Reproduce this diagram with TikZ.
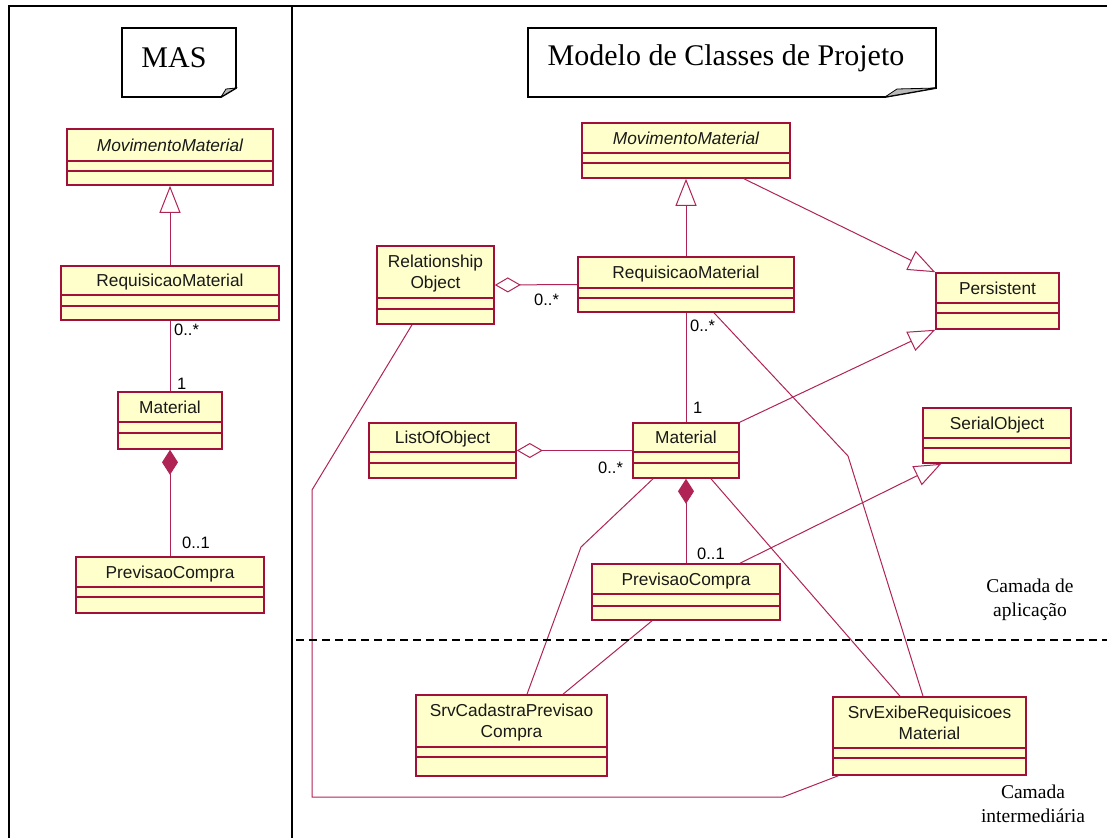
\documentclass[tikz,border=0pt]{standalone}
\usepackage{fontspec}
\setmainfont{Liberation Serif}
\setsansfont{Liberation Sans}
\usetikzlibrary{arrows.meta,fit}

\definecolor{umlfill}{RGB}{255,255,204}
\definecolor{umlline}{RGB}{160,16,58}
\definecolor{conn}{RGB}{175,35,85}

\tikzset{
  classbox/.style={draw=umlline, fill=umlfill, line width=1.6pt, inner sep=0pt},
  classname/.style={font=\sffamily\fontsize{17.3}{21}\selectfont, align=center, inner sep=0pt, text depth=0pt, text=black!90},
  mult/.style={font=\sffamily\fontsize{16.5}{20}\selectfont, anchor=west, inner sep=0pt},
  assoc/.style={draw=conn, line width=1pt},
  gen/.style={assoc, -{Triangle[open, length=27pt, width=21pt, fill=white]}},
  aggr/.style={assoc, {Diamond[open, length=26pt, width=15pt, fill=white]}-},
  comp/.style={assoc, {Diamond[length=25pt, width=16pt, fill=conn]}-},
  frameline/.style={line width=2.4pt, black},
  notebox/.style={line width=1.8pt, black, fill=white},
  notetext/.style={font=\fontsize{30}{34}\selectfont, inner sep=0pt},
  layer/.style={font=\fontsize{19.5}{23.5}\selectfont, align=center, inner sep=0pt},
}

% class box: name, x1, y1, x2, y2, first separator, second separator, title
\newcommand\umlclass[8]{%
  \node[classbox, fit={(#2,#3) (#4,#5)}] (#1) {};
  \draw[umlline, line width=1.2pt] (#2,#6) -- (#4,#6) (#2,#7) -- (#4,#7);
  \node[classname] (#1-name) at ({(#2+#4)/2},{(#3+#6)/2}) {#8};
}

\begin{document}
\begin{tikzpicture}[x=1pt, y=-1pt]
\useasboundingbox (0,0) rectangle (1107,838);

% page frame and column separator
\draw[frameline] (9,838) -- (9,6) -- (1107,6);
\draw[frameline] (292,6) -- (292,838);

% title notes
\draw[notebox] (122,28) -- (236,28) -- (236,88) -- (221,97) -- (122,97) -- cycle;
\filldraw[black, fill=gray!55, line width=0.8pt] (221,97) -- (226,89) -- (236,88) -- cycle;
\node[notetext] (mas) at (174,58) {MAS};

\draw[notebox] (528,28) -- (936,28) -- (936,88) -- (885,97) -- (528,97) -- cycle;
\filldraw[black, fill=gray!55, line width=0.8pt] (885,97) -- (897,89) -- (936,88) -- cycle;
\node[notetext] (modelo) at (726,58) {Modelo de Classes de Projeto};

% left column classes
\umlclass{mmA}{67}{129}{273}{185}{161}{171}{\itshape MovimentoMaterial}
\umlclass{rmA}{61}{266}{279}{320}{295}{306}{RequisicaoMaterial}
\umlclass{matA}{118}{392}{222}{449}{422}{433}{Material}
\umlclass{pcA}{76}{557}{264}{613}{587}{597}{PrevisaoCompra}

% right column classes
\umlclass{mmB}{582}{123}{790}{178}{153}{163}{\itshape MovimentoMaterial}
\umlclass{rmB}{578}{257}{794}{312}{288}{298}{RequisicaoMaterial}
\umlclass{ro}{377}{246}{494}{324}{298}{309}{Relationship\\Object}
\umlclass{pers}{936}{273}{1059}{329}{303}{313}{Persistent}
\umlclass{so}{923}{408}{1071}{463}{438}{448}{SerialObject}
\umlclass{loo}{369}{423}{516}{478}{452}{463}{ListOfObject}
\umlclass{matB}{633}{423}{739}{478}{452}{463}{Material}
\umlclass{pcB}{592}{564}{780}{620}{594}{606}{PrevisaoCompra}
\umlclass{cad}{416}{695}{607}{776}{747}{757}{SrvCadastraPrevisao\\Compra}
\umlclass{exi}{833}{697}{1026}{775}{748}{758}{SrvExibeRequisicoes\\Material}

% left column connectors
\draw[gen] (rmA.north) -- (mmA.south);
\draw[assoc] (rmA.south) -- (matA.north);
\draw[comp] (matA.south) -- (pcA.north);
\node[mult] (mA1) at (174,330) {0..*};
\node[mult] (mA2) at (177,384) {1};
\node[mult] (mA3) at (182,543) {0..1};

% right column connectors
\draw[gen] (rmB.north) -- (mmB.south);
\draw[gen] ([xshift=58pt]mmB.south) -- (pers.north west);
\draw[gen] (matB.north east) -- (pers.south west);
\draw[gen] ([xshift=54pt]pcB.north) -- ([xshift=19pt]so.south west);
\draw[aggr] (ro.east) -- (rmB.west);
\draw[aggr] (loo.east) -- (matB.west);
\draw[assoc] (rmB.south) -- (matB.north);
\draw[comp] (matB.south) -- (pcB.north);
\draw[assoc] ([xshift=-33pt]matB.south) -- (581,547) -- ([xshift=15.5pt]cad.north);
\draw[assoc] ([xshift=-34pt]pcB.south) -- ([xshift=51.5pt]cad.north);
\draw[assoc] ([xshift=25pt]matB.south) -- ([xshift=-29.5pt]exi.north);
\draw[assoc] ([xshift=28pt]rmB.south) -- (848,456) -- ([xshift=-6.5pt]exi.north);
\draw[assoc] ([xshift=-23.5pt]ro.south) -- (312,490) -- (312,797) -- (783,797) -- ([xshift=6pt]exi.south west);

\node[mult] (mB1) at (534,300) {0..*};
\node[mult] (mB2) at (690,326) {0..*};
\node[mult] (mB3) at (693,408) {1};
\node[mult] (mB4) at (598,468) {0..*};
\node[mult] (mB5) at (697,554) {0..1};

% layer boundary
\coordinate (layerL) at (296,640);
\coordinate (layerR) at (1107,640);
\draw[line width=1.8pt, dash pattern=on 8pt off 5pt] (layerL) -- (layerR);
\node[layer] (app) at (1030,600) {Camada de\\aplicação};
\node[layer] (mid) at (1033,804) {Camada\\intermediária};

\end{tikzpicture}
\end{document}
